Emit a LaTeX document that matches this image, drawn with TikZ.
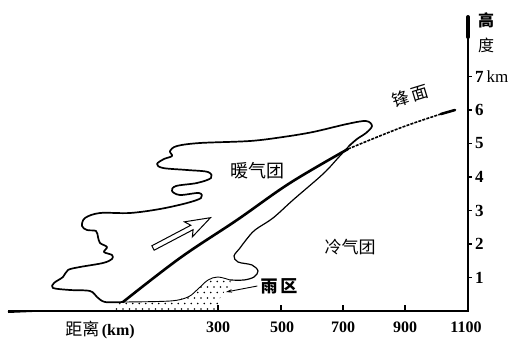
\documentclass[tikz,border=0pt]{standalone}
\usepackage{fontspec}
\setmainfont{Liberation Serif}
\newfontfamily\cjk{Noto Sans CJK SC}
\usetikzlibrary{arrows.meta}

\begin{document}
\begin{tikzpicture}[x=1pt,y=-1pt,
  cloudline/.style={line width=1.7pt, line join=round, line cap=round},
  thinedge/.style={line width=0.9pt, line join=round, line cap=round},
  frontline/.style={line width=2.6pt, line cap=round},
  axisline/.style={line width=1.2pt},
  cjklabel/.style={font=\cjk\fontsize{17}{17}\selectfont, inner sep=0pt},
  ynum/.style={font=\bfseries\fontsize{17}{17}\selectfont, inner sep=0pt, anchor=west},
  xnum/.style={font=\bfseries\fontsize{16}{16}\selectfont, inner sep=0pt},
  raindot/.style={fill=black},
]
\useasboundingbox (0,0) rectangle (523,348);

% ---- rain area (dotted) ----
\begin{scope}
  \clip (113,311) -- (114,305) -- (123,302) -- (170,301) -- (188,297) -- (198,289)
        -- (208,280) -- (218,277) -- (230,280) -- (232,286) -- (222,294) -- (219,300)
        -- (219,311) -- cycle;
  \foreach \i in {0,...,20}
    \foreach \j in {0,...,7}
      \fill[raindot] ({110+\i*6.5+mod(\j,2)*3.2},{276+\j*5.5}) circle (0.85pt);
\end{scope}

% ---- warm air mass outline ----
\draw[cloudline] plot[smooth, tension=0.55] coordinates {
  (123,302) (105,302) (97,297) (90,291) (70,290) (53,288) (54,283) (63,277)
  (68,270) (80,267) (103,263) (112,259) (112,255) (104,252) (107,247) (100,243)
  (98,237) (96,231) (87,230) (82,226) (85,218) (100,213) (130,213) (160,209)
  (187,203) (201,198) (199,193) (180,195) (172,191) (176,186) (197,183) (211,178)
  (208,172) (187,170) (163,168) (157,164) (164,159) (172,156) (170,151) (177,146)
  (200,143) (250,141) (283,137) (313,132) (347,124) (366,121) (372,126) (366,133)
  (357,139) (349,146)};
\draw[line width=1.2pt, line join=round] plot[smooth, tension=0.55] coordinates {
  (349,146) (338,158) (323,174) (293,200) (273,218) (255,230) (246,240) (240,248)
  (234,256) (238,262) (252,265) (258,271) (254,277) (244,280) (230,280)};
\draw[thinedge] plot[smooth, tension=0.55] coordinates {
  (230,280) (218,277) (208,280) (198,289) (188,297) (170,301) (123,302)};

% ---- frontal surface ----
\draw[frontline] plot[smooth, tension=0.6] coordinates {
  (123,302) (180,258) (237,220) (290,183) (348,149)};
\draw[line width=1.6pt, dash pattern=on 3pt off 1.2pt] plot[smooth, tension=0.6] coordinates {
  (348,149) (400,128) (441,114)};
\draw[frontline] (441,114) -- (455,110);

% ---- rising warm air arrow ----
\begin{scope}[shift={(153,248)}, rotate=27.8]
  \draw[line width=1pt, line join=miter] (0,-2.5) -- (44,-2.5) -- (40,-8.5) -- (65,0)
    -- (40,8.5) -- (44,2.5) -- (0,2.5) -- cycle;
\end{scope}

% ---- axes ----
\draw[line width=2pt] (8,312) -- (32,311);
\draw[axisline] (8,311) -- (468,311) -- (468,16);
\draw[line width=4pt, line cap=round] (468,17) -- (468,37);
\foreach \k in {1,...,7}
  \draw[axisline] (468,{311-33.5*\k}) -- ++(4,0);
\foreach \x in {218,281,343,405}
  \draw[axisline] (\x,311) -- ++(0,-6);

% ---- height labels ----
\node[cjklabel, font=\cjk\bfseries\fontsize{16}{16}\selectfont] (gao) at (486,20) {高};
\node[cjklabel, font=\cjk\fontsize{16}{16}\selectfont] (du) at (486,45) {度};
\node[ynum] (h7) at (475,76.5) {7\,\mdseries km};
\node[ynum] (h6) at (475,110) {6};
\node[ynum] (h5) at (475,143.5) {5};
\node[ynum] (h4) at (475,177) {4};
\node[ynum] (h3) at (475,210.5) {3};
\node[ynum] (h2) at (475,244) {2};
\node[ynum] (h1) at (475,277.5) {1};

% ---- distance labels ----
\node[inner sep=0pt] (xlab) at (100,330)
  {{\cjk\fontsize{17}{17}\selectfont 距离} {\bfseries\fontsize{16}{16}\selectfont (km)}};
\node[xnum] (d300) at (218,327) {300};
\node[xnum] (d500) at (282,327) {500};
\node[xnum] (d700) at (343,327) {700};
\node[xnum] (d900) at (405,327) {900};
\node[xnum] (d1100) at (466,327) {1100};

% ---- region labels ----
\node[cjklabel, font=\cjk\fontsize{18}{18}\selectfont] (warm) at (257,171) {暖气团};
\node[cjklabel] (cold) at (350,247) {冷气团};
\node[cjklabel, font=\cjk\bfseries\fontsize{17}{17}\selectfont] (rain) at (279,286) {雨\,区};
\node[cjklabel, rotate=17] (front) at (410,96) {锋\,面};

% ---- pointer to rain area ----
\coordinate (raintip) at (226,292);
\draw[line width=0.9pt, -{Stealth[length=6pt,width=3.5pt]}] ([xshift=-3pt]rain.west) -- (raintip);
\end{tikzpicture}
\end{document}
